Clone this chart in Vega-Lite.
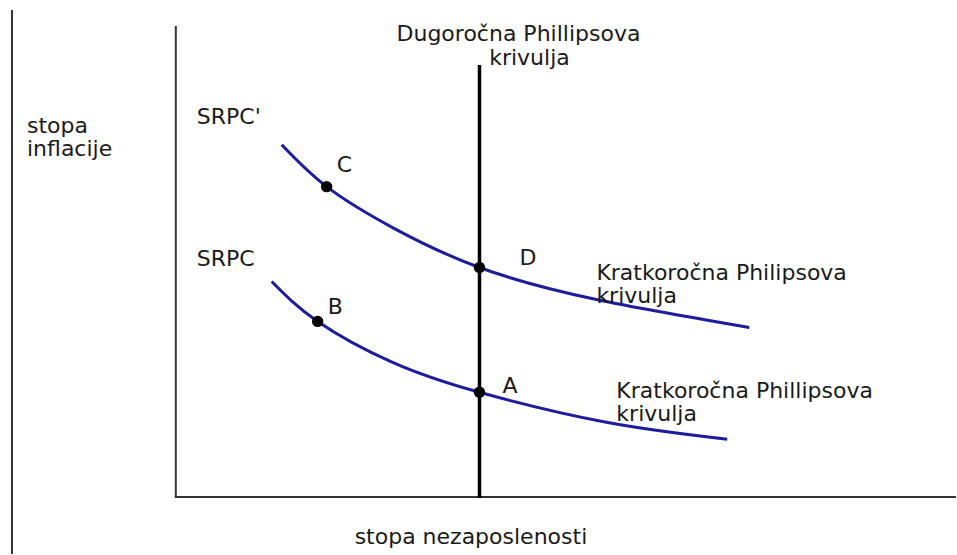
{
  "$schema": "https://vega.github.io/schema/vega-lite/v6.json",
  "width": 957,
  "height": 555,
  "autosize": {"type": "fit", "contains": "padding"},
  "padding": 0,
  "background": "white",
  "config": {"view": {"stroke": null}},
  "datasets": {
    "vlines": [
      {"name": "border", "x": -16.4, "y": 48.8, "y2": -5.7},
      {"name": "yaxis", "x": 0, "y": 47.2, "y2": 0}
    ],
    "longrun": [
      {"name": "LRPC", "x": 30.4, "y": 43.3, "y2": -0.1}
    ],
    "hlines": [
      {"name": "xaxis", "y": 0, "x": -0.1, "x2": 78.1}
    ],
    "curves": [
      {"curve": "SRPC'", "x": 10.6, "y": 35.3},
      {"curve": "SRPC'", "x": 15.1, "y": 31.1},
      {"curve": "SRPC'", "x": 21.7, "y": 27.0},
      {"curve": "SRPC'", "x": 30.4, "y": 23.0},
      {"curve": "SRPC'", "x": 42.1, "y": 19.8},
      {"curve": "SRPC'", "x": 57.4, "y": 17.0},
      {"curve": "SRPC", "x": 9.6, "y": 21.6},
      {"curve": "SRPC", "x": 14.2, "y": 17.6},
      {"curve": "SRPC", "x": 21.7, "y": 13.5},
      {"curve": "SRPC", "x": 30.4, "y": 10.5},
      {"curve": "SRPC", "x": 43.1, "y": 7.5},
      {"curve": "SRPC", "x": 55.2, "y": 5.8}
    ],
    "points": [
      {"point": "C", "x": 15.1, "y": 31.1},
      {"point": "D", "x": 30.4, "y": 23.0},
      {"point": "B", "x": 14.2, "y": 17.6},
      {"point": "A", "x": 30.4, "y": 10.5}
    ],
    "labels": [
      {"label": "stopa", "x": -14.9, "y": 37.2},
      {"label": "inflacije", "x": -14.9, "y": 34.9},
      {"label": "SRPC'", "x": 2.1, "y": 38.1},
      {"label": "SRPC", "x": 2.1, "y": 23.9},
      {"label": "C", "x": 16.1, "y": 33.3},
      {"label": "D", "x": 34.4, "y": 24.0},
      {"label": "B", "x": 15.2, "y": 19.0},
      {"label": "A", "x": 32.7, "y": 11.1},
      {"label": "Kratkoročna Philipsova", "x": 42.1, "y": 22.5},
      {"label": "krivulja", "x": 42.1, "y": 20.1},
      {"label": "Kratkoročna Phillipsova", "x": 44.1, "y": 10.6},
      {"label": "krivulja", "x": 44.1, "y": 8.3},
      {"label": "stopa nezaposlenosti", "x": 17.9, "y": -4.0}
    ],
    "toplabels": [
      {"label": "Dugoročna Phillipsova", "x": 34.3, "y": 46.4},
      {"label": "krivulja", "x": 35.4, "y": 44.0}
    ]
  },
  "layer": [
    {
      "data": {"name": "vlines"},
      "mark": {"type": "rule", "color": "#333333", "strokeWidth": 2},
      "encoding": {
        "x": {"field": "x", "type": "quantitative", "scale": {"domain": [-17.6, 78.1], "nice": false, "zero": false}, "axis": null},
        "y": {"field": "y", "type": "quantitative", "scale": {"domain": [-5.7, 49.8], "nice": false, "zero": false}, "axis": null},
        "y2": {"field": "y2"}
      }
    },
    {
      "data": {"name": "hlines"},
      "mark": {"type": "rule", "color": "#333333", "strokeWidth": 2},
      "encoding": {
        "x": {"field": "x", "type": "quantitative", "scale": {"domain": [-17.6, 78.1], "nice": false, "zero": false}, "axis": null},
        "x2": {"field": "x2"},
        "y": {"field": "y", "type": "quantitative", "scale": {"domain": [-5.7, 49.8], "nice": false, "zero": false}, "axis": null}
      }
    },
    {
      "data": {"name": "curves"},
      "mark": {"type": "line", "color": "#1c1c9c", "strokeWidth": 3, "interpolate": "natural"},
      "encoding": {
        "x": {"field": "x", "type": "quantitative", "scale": {"domain": [-17.6, 78.1], "nice": false, "zero": false}, "axis": null},
        "y": {"field": "y", "type": "quantitative", "scale": {"domain": [-5.7, 49.8], "nice": false, "zero": false}, "axis": null},
        "detail": {"field": "curve", "type": "nominal"}
      }
    },
    {
      "data": {"name": "longrun"},
      "mark": {"type": "rule", "color": "#000000", "strokeWidth": 3.5},
      "encoding": {
        "x": {"field": "x", "type": "quantitative", "scale": {"domain": [-17.6, 78.1], "nice": false, "zero": false}, "axis": null},
        "y": {"field": "y", "type": "quantitative", "scale": {"domain": [-5.7, 49.8], "nice": false, "zero": false}, "axis": null},
        "y2": {"field": "y2"}
      }
    },
    {
      "data": {"name": "points"},
      "mark": {"type": "circle", "color": "#000000", "size": 130, "opacity": 1},
      "encoding": {
        "x": {"field": "x", "type": "quantitative", "scale": {"domain": [-17.6, 78.1], "nice": false, "zero": false}, "axis": null},
        "y": {"field": "y", "type": "quantitative", "scale": {"domain": [-5.7, 49.8], "nice": false, "zero": false}, "axis": null}
      }
    },
    {
      "data": {"name": "labels"},
      "mark": {"type": "text", "align": "left", "baseline": "middle", "font": "DejaVu Sans", "fontSize": 22, "color": "#1a1a1a"},
      "encoding": {
        "x": {"field": "x", "type": "quantitative", "scale": {"domain": [-17.6, 78.1], "nice": false, "zero": false}, "axis": null},
        "y": {"field": "y", "type": "quantitative", "scale": {"domain": [-5.7, 49.8], "nice": false, "zero": false}, "axis": null},
        "text": {"field": "label", "type": "nominal"}
      }
    },
    {
      "data": {"name": "toplabels"},
      "mark": {"type": "text", "align": "center", "baseline": "middle", "font": "DejaVu Sans", "fontSize": 22, "color": "#1a1a1a"},
      "encoding": {
        "x": {"field": "x", "type": "quantitative", "scale": {"domain": [-17.6, 78.1], "nice": false, "zero": false}, "axis": null},
        "y": {"field": "y", "type": "quantitative", "scale": {"domain": [-5.7, 49.8], "nice": false, "zero": false}, "axis": null},
        "text": {"field": "label", "type": "nominal"}
      }
    }
  ]
}
